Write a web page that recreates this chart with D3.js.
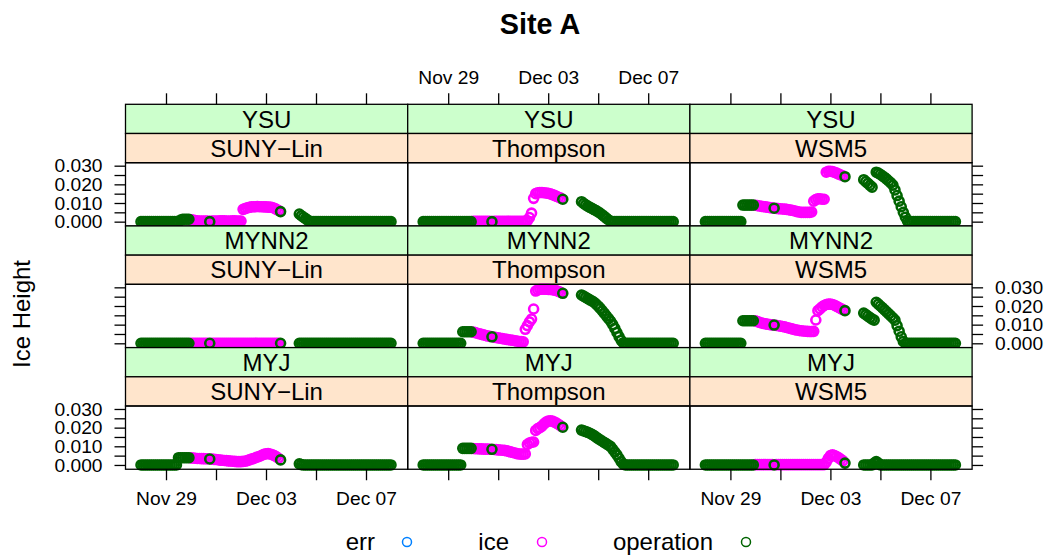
<!DOCTYPE html>
<html>
<head>
<meta charset="utf-8">
<script src="https://cdn.jsdelivr.net/npm/d3@7"></script>
<style>
body { margin: 0; background: #fff; }
svg text { font-family: "Liberation Sans", Arial, Helvetica, sans-serif; fill: #000; }
</style>
</head>
<body>
<svg id="chart" width="1048" height="555"></svg>
<script>
// ---- data ----
var title = "Site A";
var pbls = ["YSU", "MYNN2", "MYJ"];                 // rows, outer strip
var schemes = ["SUNY\u2212Lin", "Thompson", "WSM5"]; // columns, inner strip
var groups = ["err", "ice", "operation"];
var groupCode = {"err": "e", "ice": "i", "operation": "o"};
var groupColors = ["#0080ff", "#ff00ff", "#006400"];

// model output every 2 hours from Nov 28 00:00 (one row = one day)
var startTime = Date.UTC(2019, 10, 28);
var stepHours = 2;
var groupCodes =
  "oooooooooooo" + "oooooooooooo" + "iiiiiiiiioii" + "iiiiiiiiiiii" + "iiiiiiiiiiii" +
  "iiiiiiio----" + "----oooooooo" + "oooooooooooo" + "oooooooooooo" + "oooooooooooo" + "o";

// ice height, in 1/1000
var ysu_suny = [
  0,0,0,0,0,0,0,0,0,0,0,0,
  0,0,0,0,0,0,0,0.8,1.2,1.3,1.3,1.3,
  1.0,0.8,0.6,0.4,0.3,0.3,0.3,0.3,0.3,0,0.3,0.3,
  0.3,0.3,0.4,0.4,0.4,0.3,0.3,0.3,0.4,0.4,0.3,0.3,
  0.3,6.6,7.0,7.4,7.7,7.9,8.0,8.0,8.1,8.0,8.0,7.9,
  7.9,7.8,7.8,7.6,7.2,6.6,6.0,5.4,null,null,null,null,
  null,null,null,null,4.1,3.2,2.4,1.6,0.8,0.1,0,0,
  0,0,0,0,0,0,0,0,0,0,0,0,
  0,0,0,0,0,0,0,0,0,0,0,0,
  0,0,0,0,0,0,0,0,0,0,0,0,
  0];
var ysu_thompson = [
  0,0,0,0,0,0,0,0,0,0,0,0,
  0,0,0,0,0,0,0,0,0,0,0,0,
  0.2,0.2,0.2,0.2,0.2,0.2,0.2,0.2,0.2,0,0.2,0.2,
  0.2,0.2,0.2,0.2,0.2,0.2,0.2,0.2,0.2,0.2,0.2,0.2,
  0.2,0.3,0.5,2.2,4.6,12.5,15.0,15.5,15.6,15.6,15.5,15.4,
  15.2,14.9,14.5,14.1,13.6,13.1,12.6,12.0,null,null,null,null,
  null,null,null,null,10.7,9.8,9.0,8.3,7.7,7.1,6.5,5.9,
  5.2,4.5,3.6,2.7,1.8,0.9,0.2,0,0,0,0,0,
  0,0,0,0,0,0,0,0,0,0,0,0,
  0,0,0,0,0,0,0,0,0,0,0,0,
  0];
var ysu_wsm5 = [
  0,0,0,0,0,0,0,0,0,0,0,0,
  0,0,0,0,0,0,8.9,8.9,8.9,8.9,8.9,8.9,
  8.8,8.6,8.4,8.2,8.0,7.9,7.7,7.5,7.4,7.2,7.1,7.0,
  6.9,6.8,6.7,6.6,6.4,6.2,6.0,5.7,5.4,5.2,5.0,5.0,
  5.0,5.0,5.0,5.2,11.0,11.8,12.3,12.3,12.0,12.0,26.5,27.0,
  27.0,26.8,26.5,26.0,25.5,25.0,24.6,24.1,null,null,null,null,
  null,null,null,null,22.5,21.5,20.5,19.5,18.5,null,26.5,26.0,
  25.3,24.5,23.7,22.8,21.8,20.8,19.6,17.0,14.0,11.0,8.0,5.0,
  2.4,0.3,0,0,0,0,0,0,0,0,0,0,
  0,0,0,0,0,0,0,0,0,0,0,0,
  0];
var mynn2_suny = [
  0,0,0,0,0,0,0,0,0,0,0,0,
  0,0,0,0,0,0,0,0,0,0,0,0,
  0,0,0,0,0,0,0,0,0,0,0,0,
  0,0,0,0,0,0,0,0,0,0,0,0,
  0,0,0,0,0,0,0,0,0,0,0,0,
  0,0,0,0,0,0,0,0,null,null,null,null,
  null,null,null,null,0,0,0,0,0,0,0,0,
  0,0,0,0,0,0,0,0,0,0,0,0,
  0,0,0,0,0,0,0,0,0,0,0,0,
  0,0,0,0,0,0,0,0,0,0,0,0,
  0];
var mynn2_thompson = [
  0,0,0,0,0,0,0,0,0,0,0,0,
  0,0,0,0,0,0,0,6.2,6.2,6.2,6.2,6.2,
  6.0,5.7,5.4,5.1,4.8,4.5,4.2,3.9,3.7,3.5,3.3,3.1,
  2.9,2.7,2.5,2.3,2.1,1.9,1.8,1.6,1.4,1.2,1.0,0.9,
  0.8,7.5,9.5,11.5,13.0,18.4,28.0,28.6,29.0,29.0,29.0,29.0,
  28.9,28.8,28.7,28.5,28.2,27.8,27.3,26.8,null,null,null,null,
  null,null,null,null,25.9,25.3,24.6,24.0,23.3,22.7,22.0,21.0,
  19.9,18.7,17.4,16.0,14.6,13.2,11.8,10.0,8.0,5.8,3.6,1.6,
  0.3,0,0,0,0,0,0,0,0,0,0,0,
  0,0,0,0,0,0,0,0,0,0,0,0,
  0];
var mynn2_wsm5 = [
  0,0,0,0,0,0,0,0,0,0,0,0,
  0,0,0,0,0,0,12.1,12.1,12.1,12.1,12.1,12.1,
  12.0,11.6,11.2,10.9,10.6,10.4,10.2,10.0,9.9,9.8,9.6,9.4,
  9.2,9.0,8.8,8.5,8.2,7.9,7.6,7.3,7.1,6.9,6.7,6.6,
  6.5,6.4,6.3,6.3,6.4,12.5,17.5,18.5,19.5,20.3,20.8,21.0,
  21.0,20.8,20.4,19.8,19.2,18.6,18.0,17.5,null,null,null,null,
  null,null,null,null,16.2,15.4,14.6,13.8,13.0,12.4,22.0,21.0,
  20.0,19.0,17.9,16.9,15.8,14.7,13.6,12.4,9.5,6.5,3.5,1.0,
  0,0,0,0,0,0,0,0,0,0,0,0,
  0,0,0,0,0,0,0,0,0,0,0,0,
  0];
var myj_suny = [
  0,0,0,0,0,0,0,0,0,0,0,0,
  0,0,0,0,0,0,3.9,3.9,3.9,3.9,3.9,3.9,
  3.8,3.7,3.6,3.5,3.5,3.4,3.4,3.3,3.3,3.2,3.1,3.0,
  2.9,2.8,2.6,2.5,2.4,2.3,2.2,2.1,2.0,1.9,1.8,1.8,
  1.8,1.9,2.0,2.3,2.7,3.1,3.5,3.9,4.3,4.7,5.2,5.7,
  6.0,6.1,5.9,5.5,5.0,4.4,3.6,2.7,null,null,null,null,
  null,null,null,null,0.6,0.2,0,0,0,0,0,0,
  0,0,0,0,0,0,0,0,0,0,0,0,
  0,0,0,0,0,0,0,0,0,0,0,0,
  0,0,0,0,0,0,0,0,0,0,0,0,
  0];
var myj_thompson = [
  0,0,0,0,0,0,0,0,0,0,0,0,
  0,0,0,0,0,0,0,8.9,8.9,8.9,8.9,8.9,
  8.8,8.7,8.7,8.6,8.6,8.5,8.5,8.5,8.4,8.4,8.3,8.2,
  8.1,8.0,7.9,7.8,7.6,7.3,7.0,6.7,6.4,6.1,5.9,5.8,
  5.8,5.9,11.0,11.8,12.2,12.3,18.5,19.5,20.0,20.8,22.0,23.0,
  23.5,23.7,23.5,23.0,22.4,21.7,20.9,20.2,null,null,null,null,
  null,null,null,null,18.7,18.3,17.9,17.5,17.0,16.4,15.7,14.9,
  14.1,13.4,12.7,12.0,11.3,10.6,9.8,8.4,6.9,5.4,3.6,1.8,
  0.5,0,0,0,0,0,0,0,0,0,0,0,
  0,0,0,0,0,0,0,0,0,0,0,0,
  0];
var myj_wsm5 = [
  0,0,0,0,0,0,0,0,0,0,0,0,
  0,0,0,0,0,0,0,0,0,0,0,0,
  0.2,0.2,0.2,0.2,0.2,0.2,0.2,0.2,0.2,0,0.2,0.2,
  0.2,0.2,0.2,0.2,0.2,0.2,0.2,0.2,0.2,0.2,0.2,0.2,
  0.2,0.2,0.2,0.2,0.2,0.2,0.2,0.2,0.2,0.2,1.5,3.5,
  5.0,5.4,5.0,4.5,3.8,3.0,2.2,1.0,null,null,null,null,
  null,null,null,null,0,0,0,0,0,1.0,1.8,1.0,
  0,0,0,0,0,0,0,0,0,0,0,0,
  0,0,0,0,0,0,0,0,0,0,0,0,
  0,0,0,0,0,0,0,0,0,0,0,0,
  0];

var panelValues = [
  [ysu_suny, ysu_thompson, ysu_wsm5],
  [mynn2_suny, mynn2_thompson, mynn2_wsm5],
  [myj_suny, myj_thompson, myj_wsm5]
];

var xTickDates = [Date.UTC(2019,10,29), Date.UTC(2019,11,1), Date.UTC(2019,11,3), Date.UTC(2019,11,5), Date.UTC(2019,11,7)];
var xTickLabeled = [Date.UTC(2019,10,29), Date.UTC(2019,11,3), Date.UTC(2019,11,7)];
var yTicks = [0, 0.005, 0.010, 0.015, 0.020, 0.025, 0.030];
var yTickLabeled = [0, 0.010, 0.020, 0.030];

// ---- layout ----
var svg = d3.select("#chart");
var colLeft = 125.5, colW = 282.2;
var rowTop = 104.3, rowPitch = 121.65, stripH = 29.2;
var panelH = rowPitch - 2 * stripH;
var day = 86400000;
var tickLen = 11;

var x = d3.scaleUtc()
  .domain([new Date(startTime - 0.62 * day), new Date(startTime + 10.668 * day)])
  .range([0, colW]);
var y = d3.scaleLinear().domain([-0.0023, 0.0316]).range([panelH, 0]);

svg.append("text")
  .attr("x", 540).attr("y", 34)
  .attr("text-anchor", "middle")
  .style("font-weight", "bold").style("font-size", "28.8px")
  .text(title);

function makePoints(vals) {
  var pts = [];
  vals.forEach(function(v, i) {
    if (v == null || groupCodes[i] == "-") return;
    pts.push({t: new Date(startTime + i * stepHours * 3600000), v: v / 1000, g: groupCodes[i]});
  });
  return pts;
}

var xFmt = d3.utcFormat("%b %d");
function xLabel(d) { return xTickLabeled.indexOf(+d) >= 0 ? xFmt(d) : ""; }
function yLabel(d) { return yTickLabeled.indexOf(d) >= 0 ? d3.format(".3f")(d) : ""; }

function styleAxis(g, noLabels) {
  g.select(".domain").remove();
  g.selectAll(".tick line").attr("stroke", "#000").attr("stroke-width", 1.3);
  g.selectAll(".tick text").style("font-size", "19.2px").style("font-family", "'Liberation Sans', Arial, sans-serif");
  // drop the empty labels of the minor ticks
  g.selectAll(".tick text").filter(function() { return this.textContent == ""; }).remove();
  if (noLabels) g.selectAll(".tick text").remove();
}

for (var r = 0; r < 3; r++) {
  for (var c = 0; c < 3; c++) {
    var gx = colLeft + c * colW;
    var gy = rowTop + r * rowPitch;

    // strips
    svg.append("rect").attr("x", gx).attr("y", gy).attr("width", colW).attr("height", stripH)
      .attr("fill", "#ccffcc").attr("stroke", "#000").attr("stroke-width", 1.3);
    svg.append("text").attr("x", gx + colW / 2).attr("y", gy + stripH / 2 + 8.6)
      .attr("text-anchor", "middle").style("font-size", "24px").text(pbls[r]);
    svg.append("rect").attr("x", gx).attr("y", gy + stripH).attr("width", colW).attr("height", stripH)
      .attr("fill", "#ffe5cc").attr("stroke", "#000").attr("stroke-width", 1.3);
    svg.append("text").attr("x", gx + colW / 2).attr("y", gy + stripH * 1.5 + 8.6)
      .attr("text-anchor", "middle").style("font-size", "24px").text(schemes[c]);

    var panel = svg.append("g").attr("transform", "translate(" + gx + "," + (gy + 2 * stripH) + ")");
    var pts = makePoints(panelValues[r][c]);

    groups.forEach(function(gname, gi) {
      panel.append("g").selectAll("circle")
        .data(pts.filter(function(d) { return d.g == groupCode[gname]; }))
        .enter().append("circle")
          .attr("cx", function(d) { return x(d.t); })
          .attr("cy", function(d) { return y(d.v); })
          .attr("r", 4.5)
          .attr("fill", "none")
          .attr("stroke", groupColors[gi])
          .attr("stroke-width", 2.6);
    });

    panel.append("rect").attr("width", colW).attr("height", panelH)
      .attr("fill", "none").attr("stroke", "#000").attr("stroke-width", 1.3);

    // axes on the outside of the layout
    if (r == 0) {
      var ta = svg.append("g").attr("transform", "translate(" + gx + "," + gy + ")")
        .call(d3.axisTop(x).tickValues(xTickDates.map(function(d) { return new Date(d); }))
          .tickSize(tickLen).tickPadding(9).tickFormat(xLabel));
      styleAxis(ta, c != 1);
    }
    if (r == 2) {
      var ba = svg.append("g").attr("transform", "translate(" + gx + "," + (gy + rowPitch) + ")")
        .call(d3.axisBottom(x).tickValues(xTickDates.map(function(d) { return new Date(d); }))
          .tickSize(tickLen).tickPadding(11).tickFormat(xLabel));
      styleAxis(ba, c == 1);
    }
    if (c == 0) {
      var la = svg.append("g").attr("transform", "translate(" + gx + "," + (gy + 2 * stripH) + ")")
        .call(d3.axisLeft(y).tickValues(yTicks).tickSize(tickLen).tickPadding(12).tickFormat(yLabel));
      styleAxis(la, r == 1);
    }
    if (c == 2) {
      var ra = svg.append("g").attr("transform", "translate(" + (gx + colW) + "," + (gy + 2 * stripH) + ")")
        .call(d3.axisRight(y).tickValues(yTicks).tickSize(tickLen).tickPadding(12).tickFormat(yLabel));
      styleAxis(ra, r != 1);
    }
  }
}

// y label
svg.append("text")
  .attr("transform", "translate(30,314) rotate(-90)")
  .attr("text-anchor", "middle")
  .style("font-size", "24px")
  .text("Ice Height");

// legend
var legendTextEnd = [375, 509, 713];
var legendDot = [407, 542, 746];
groups.forEach(function(gname, gi) {
  svg.append("text").attr("x", legendTextEnd[gi]).attr("y", 550)
    .attr("text-anchor", "end").style("font-size", "24px").text(gname);
  svg.append("circle").attr("cx", legendDot[gi]).attr("cy", 542).attr("r", 4.5)
    .attr("fill", "none").attr("stroke", groupColors[gi]).attr("stroke-width", 1.5);
});
</script>
</body>
</html>
